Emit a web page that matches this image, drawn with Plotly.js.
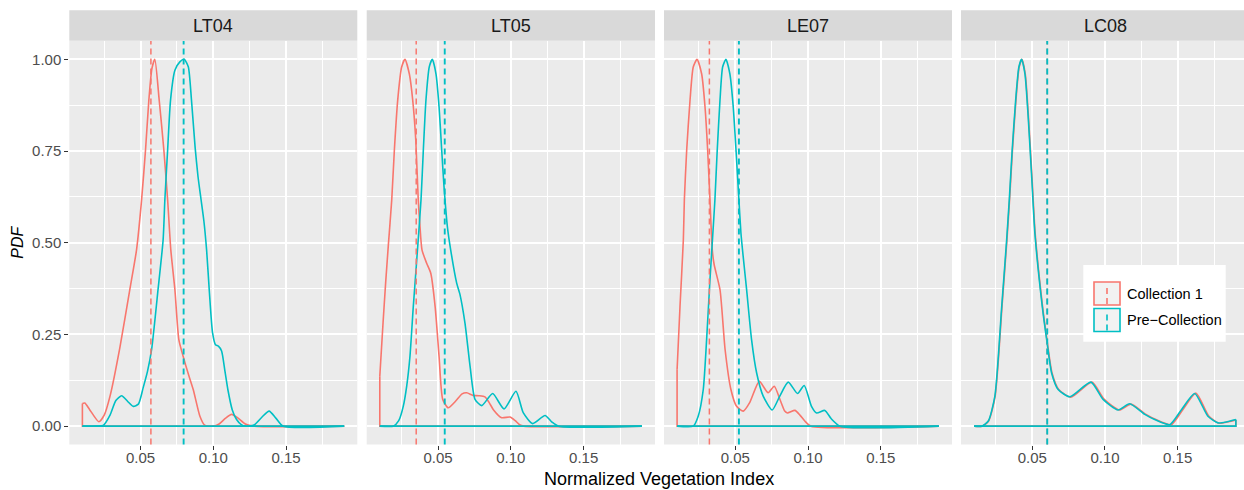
<!DOCTYPE html>
<html>
<head>
<meta charset="utf-8">
<script src="https://cdn.plot.ly/plotly-3.0.1.min.js"></script>
<style>
  html, body { margin: 0; padding: 0; background: #ffffff; }
  #chart { width: 1244px; height: 490px; }
</style>
</head>
<body>
<div id="chart"></div>
<script>
// ---------------- DATA ----------------
const panels = ["LT04", "LT05", "LE07", "LC08"];
const seriesNames = ["Collection 1", "Pre\u2212Collection"];
const xTickLabels = ["0.05", "0.10", "0.15"];
const yTickLabels = ["0.00", "0.25", "0.50", "0.75", "1.00"];

// Mean (dashed) lines per panel
const meanCollection1 = [0.0571, 0.0350, 0.0322, 0.0603];
const meanPreCollection = [0.0796, 0.0546, 0.0525, 0.0603];

// LT04
const lt04_c1_x = [0.010, 0.0117, 0.015, 0.0213, 0.025, 0.029, 0.0358, 0.0426, 0.0472, 0.0507, 0.0534, 0.0557, 0.0578, 0.0598, 0.0628, 0.066, 0.0686, 0.0708, 0.0736, 0.0763, 0.0793, 0.083, 0.0862, 0.0908, 0.094, 0.100, 0.104, 0.1085, 0.1126, 0.117, 0.122, 0.128, 0.190];
const lt04_c1_y = [0.062, 0.063, 0.045, 0.012, 0.030, 0.082, 0.215, 0.372, 0.480, 0.617, 0.753, 0.889, 0.975, 1.000, 0.889, 0.753, 0.617, 0.480, 0.372, 0.236, 0.190, 0.140, 0.100, 0.027, 0.003, 0.000, 0.006, 0.022, 0.032, 0.022, 0.006, 0.000, 0.000];
const lt04_pre_x = [0.010, 0.020, 0.0243, 0.029, 0.033, 0.037, 0.041, 0.045, 0.0485, 0.0518, 0.0548, 0.0576, 0.062, 0.0655, 0.0667, 0.0686, 0.0706, 0.0736, 0.077, 0.080, 0.0828, 0.085, 0.0875, 0.0895, 0.0915, 0.0935, 0.0954, 0.0972, 0.0995, 0.1015, 0.1035, 0.1057, 0.108, 0.110, 0.113, 0.116, 0.119, 0.122, 0.128, 0.1335, 0.1384, 0.143, 0.148, 0.190];
const lt04_pre_y = [0.000, 0.000, 0.002, 0.030, 0.070, 0.083, 0.068, 0.054, 0.060, 0.105, 0.150, 0.209, 0.372, 0.508, 0.617, 0.753, 0.889, 0.970, 0.993, 1.000, 0.980, 0.889, 0.760, 0.680, 0.620, 0.560, 0.480, 0.372, 0.254, 0.222, 0.218, 0.205, 0.150, 0.100, 0.045, 0.018, 0.005, 0.000, 0.003, 0.025, 0.041, 0.022, 0.000, 0.000];

// LT05
const lt05_c1_x = [0.010, 0.0122, 0.014, 0.0158, 0.0182, 0.020, 0.0223, 0.025, 0.0273, 0.0303, 0.0326, 0.0347, 0.0364, 0.0375, 0.039, 0.0422, 0.045, 0.048, 0.0507, 0.0532, 0.057, 0.062, 0.0665, 0.0697, 0.074, 0.078, 0.0822, 0.085, 0.088, 0.0937, 0.0994, 0.103, 0.106, 0.109, 0.190];
const lt05_c1_y = [0.136, 0.280, 0.390, 0.490, 0.617, 0.753, 0.889, 0.979, 1.000, 0.960, 0.889, 0.780, 0.617, 0.550, 0.480, 0.444, 0.417, 0.326, 0.190, 0.073, 0.050, 0.068, 0.088, 0.091, 0.084, 0.083, 0.080, 0.065, 0.045, 0.023, 0.025, 0.015, 0.004, 0.000, 0.000];
const lt05_pre_x = [0.010, 0.0193, 0.023, 0.0261, 0.0285, 0.0307, 0.033, 0.0355, 0.0383, 0.0399, 0.0417, 0.044, 0.0461, 0.0486, 0.0507, 0.0525, 0.0541, 0.0564, 0.0587, 0.0628, 0.065, 0.0685, 0.072, 0.0754, 0.080, 0.0875, 0.0953, 0.1035, 0.1086, 0.115, 0.1235, 0.128, 0.1326, 0.190];
const lt05_pre_y = [0.000, 0.000, 0.015, 0.054, 0.110, 0.190, 0.326, 0.460, 0.617, 0.753, 0.889, 0.980, 1.000, 0.960, 0.870, 0.753, 0.653, 0.544, 0.480, 0.390, 0.360, 0.281, 0.163, 0.073, 0.056, 0.089, 0.047, 0.095, 0.036, 0.007, 0.029, 0.012, 0.000, 0.000];

// LE07
const le07_c1_x = [0.010, 0.012, 0.0143, 0.015, 0.0166, 0.0189, 0.0211, 0.0237, 0.0269, 0.0292, 0.031, 0.0326, 0.0342, 0.0355, 0.0395, 0.043, 0.047, 0.0509, 0.0555, 0.060, 0.0665, 0.0726, 0.0768, 0.081, 0.084, 0.0858, 0.091, 0.0945, 0.0978, 0.102, 0.190];
const le07_c1_y = [0.154, 0.326, 0.508, 0.617, 0.753, 0.889, 0.979, 1.000, 0.960, 0.870, 0.753, 0.617, 0.480, 0.440, 0.372, 0.209, 0.100, 0.054, 0.041, 0.065, 0.122, 0.091, 0.109, 0.070, 0.041, 0.036, 0.043, 0.030, 0.014, 0.000, 0.000];
const le07_pre_x = [0.010, 0.0211, 0.0245, 0.028, 0.0303, 0.0326, 0.0345, 0.036, 0.0376, 0.0395, 0.0413, 0.0436, 0.0463, 0.0486, 0.0505, 0.0525, 0.0539, 0.0555, 0.0578, 0.0612, 0.0647, 0.0692, 0.0754, 0.0806, 0.0864, 0.0928, 0.0974, 0.1024, 0.1059, 0.1116, 0.116, 0.122, 0.190];
const le07_pre_y = [0.000, 0.000, 0.027, 0.100, 0.236, 0.399, 0.520, 0.617, 0.753, 0.889, 0.979, 1.000, 0.960, 0.870, 0.753, 0.617, 0.526, 0.460, 0.372, 0.236, 0.145, 0.082, 0.044, 0.082, 0.120, 0.089, 0.111, 0.054, 0.036, 0.043, 0.020, 0.000, 0.000];

// LC08
const lc08_c1_x = [0.010, 0.0155, 0.020, 0.0245, 0.0292, 0.0326, 0.0344, 0.0364, 0.0388, 0.041, 0.0429, 0.0452, 0.0474, 0.0498, 0.052, 0.0571, 0.0601, 0.0636, 0.0682, 0.0765, 0.091, 0.0995, 0.110, 0.1178, 0.1282, 0.135, 0.1455, 0.1535, 0.1625, 0.1715, 0.1785, 0.185, 0.190];
const lc08_c1_y = [0.000, 0.000, 0.014, 0.082, 0.326, 0.508, 0.617, 0.753, 0.889, 0.979, 1.000, 0.960, 0.843, 0.680, 0.526, 0.326, 0.236, 0.145, 0.100, 0.079, 0.120, 0.073, 0.044, 0.060, 0.032, 0.018, 0.004, 0.045, 0.090, 0.027, 0.008, 0.012, 0.017];
const lc08_pre_x = [0.010, 0.0152, 0.0198, 0.0243, 0.029, 0.0324, 0.0342, 0.0362, 0.0386, 0.0408, 0.0427, 0.045, 0.0472, 0.0496, 0.0518, 0.0569, 0.0599, 0.0633, 0.0678, 0.0759, 0.0903, 0.0987, 0.109, 0.117, 0.1274, 0.1342, 0.1445, 0.1526, 0.1617, 0.1708, 0.1777, 0.184, 0.190];
const lc08_pre_y = [0.000, 0.000, 0.014, 0.082, 0.326, 0.508, 0.617, 0.753, 0.889, 0.979, 1.000, 0.960, 0.843, 0.680, 0.526, 0.326, 0.236, 0.145, 0.100, 0.080, 0.120, 0.073, 0.044, 0.061, 0.032, 0.018, 0.004, 0.045, 0.089, 0.027, 0.009, 0.012, 0.018];

const curvesX = [[lt04_c1_x, lt04_pre_x], [lt05_c1_x, lt05_pre_x], [le07_c1_x, le07_pre_x], [lc08_c1_x, lc08_pre_x]];
const curvesY = [[lt04_c1_y, lt04_pre_y], [lt05_c1_y, lt05_pre_y], [le07_c1_y, le07_pre_y], [lc08_c1_y, lc08_pre_y]];

// ---------------- STYLE / LAYOUT ----------------
const W = 1244, H = 490;
const colors = ["#F8766D", "#00BFC4"];
const FONT = "Liberation Sans, Arial, Helvetica, sans-serif";
const fx = v => v / W;
const fy = v => 1 - v / H;

const panelPx = [[69.3, 357.3], [366.7, 655.0], [664.0, 952.0], [961.0, 1244.0]];
const xRanges = [[0.001, 0.199], [0.001, 0.199], [0.001, 0.199], [0.001, 0.1956]];
const panelTop = 41, panelBottom = 444.5, stripTop = 10.3;
const yDomain = [fy(panelBottom), fy(panelTop)];

const traces = [];
const layout = {
  width: W, height: H,
  margin: {l: 0, r: 0, t: 0, b: 0},
  paper_bgcolor: "#FFFFFF",
  plot_bgcolor: "#EBEBEB",
  showlegend: false,
  font: {family: FONT, color: "#000000"},
  shapes: [],
  annotations: []
};

for (let p = 0; p < panels.length; p++) {
  const sfx = p === 0 ? "" : String(p + 1);
  const xa = "x" + sfx, ya = "y" + sfx;
  layout["xaxis" + sfx] = {
    domain: [fx(panelPx[p][0]), fx(panelPx[p][1])],
    range: xRanges[p],
    anchor: ya,
    tickmode: "array",
    tickvals: xTickLabels.map(Number),
    ticktext: xTickLabels,
    ticks: "outside", ticklen: 4, tickwidth: 1, tickcolor: "#333333",
    ticklabelstandoff: -5,
    tickfont: {family: FONT, size: 15, color: "#4D4D4D"},
    showgrid: true, gridcolor: "#FFFFFF", gridwidth: 2,
    minor: {tick0: 0, dtick: 0.025, showgrid: true, gridcolor: "#FFFFFF", gridwidth: 1, ticks: ""},
    zeroline: false, showline: false, fixedrange: true
  };
  layout["yaxis" + sfx] = {
    domain: yDomain,
    range: [-0.05, 1.05],
    anchor: xa,
    tickmode: "array",
    tickvals: yTickLabels.map(Number),
    ticktext: yTickLabels,
    ticks: p === 0 ? "outside" : "",
    showticklabels: p === 0,
    ticklen: 4, tickwidth: 1, tickcolor: "#333333",
    tickfont: {family: FONT, size: 15, color: "#4D4D4D"},
    showgrid: true, gridcolor: "#FFFFFF", gridwidth: 2,
    minor: {tick0: 0, dtick: 0.125, showgrid: true, gridcolor: "#FFFFFF", gridwidth: 1, ticks: ""},
    zeroline: false, showline: false, fixedrange: true
  };

  // density outlines: curve (smoothed) + baseline closure
  for (let s = 0; s < 2; s++) {
    const xs = curvesX[p][s], ys = curvesY[p][s];
    const n = xs.length;
    traces.push({
      type: "scatter", mode: "lines", xaxis: xa, yaxis: ya,
      x: xs, y: ys,
      line: {color: colors[s], width: 1.6, shape: "spline", smoothing: 0.6},
      hoverinfo: "skip", name: seriesNames[s]
    });
    traces.push({
      type: "scatter", mode: "lines", xaxis: xa, yaxis: ya,
      x: [xs[n - 1], xs[n - 1], xs[0], xs[0]],
      y: [ys[n - 1], 0, 0, ys[0]],
      line: {color: colors[s], width: 1.6},
      hoverinfo: "skip", name: seriesNames[s]
    });
  }

  // mean lines
  const means = [meanCollection1[p], meanPreCollection[p]];
  for (let s = 0; s < 2; s++) {
    layout.shapes.push({
      type: "line", xref: xa, yref: ya + " domain",
      x0: means[s], x1: means[s], y0: 0, y1: 1,
      line: {color: colors[s], width: s === 0 ? 1.5 : 1.9, dash: "6px,4px"}
    });
  }

  // strip
  layout.shapes.push({
    type: "rect", xref: "paper", yref: "paper",
    x0: fx(panelPx[p][0]), x1: fx(panelPx[p][1]),
    y0: fy(panelTop - 0.3), y1: fy(stripTop),
    fillcolor: "#D9D9D9", line: {width: 0}
  });
  layout.annotations.push({
    xref: "paper", yref: "paper",
    x: fx((panelPx[p][0] + (p === 3 ? 1249 : panelPx[p][1])) / 2),
    y: fy((stripTop + panelTop) / 2),
    text: panels[p], showarrow: false,
    xanchor: "center", yanchor: "middle",
    font: {family: FONT, size: 18, color: "#1A1A1A"}
  });
}

// axis titles
layout.annotations.push({
  xref: "paper", yref: "paper", x: fx(659.5), y: fy(479),
  text: "Normalized Vegetation Index", showarrow: false,
  xanchor: "center", yanchor: "middle",
  font: {family: FONT, size: 18, color: "#000000"}
});
layout.annotations.push({
  xref: "paper", yref: "paper", x: fx(18), y: fy((panelTop + panelBottom) / 2),
  text: "PDF", showarrow: false, textangle: -90,
  xanchor: "center", yanchor: "middle",
  font: {family: FONT, size: 16, color: "#000000", style: "italic"}
});

// legend (drawn manually, ggplot-like keys)
layout.shapes.push({
  type: "rect", xref: "paper", yref: "paper",
  x0: fx(1083.3), x1: fx(1225.7), y0: fy(341.7), y1: fy(265),
  fillcolor: "#FFFFFF", line: {width: 0}
});
const keyTops = [282, 308.5];
for (let s = 0; s < 2; s++) {
  const t = keyTops[s], b = t + 23;
  layout.shapes.push({
    type: "rect", xref: "paper", yref: "paper",
    x0: fx(1094), x1: fx(1120), y0: fy(b), y1: fy(t),
    fillcolor: "#F2F2F2", line: {color: colors[s], width: 1.6}
  });
  layout.shapes.push({
    type: "line", xref: "paper", yref: "paper",
    x0: fx(1107), x1: fx(1107), y0: fy(b - 1), y1: fy(t + 3),
    line: {color: colors[s], width: 1.6, dash: "6px,4px"}
  });
  layout.annotations.push({
    xref: "paper", yref: "paper", x: fx(1124.5), y: fy(t + 11.5),
    text: seriesNames[s], showarrow: false,
    xanchor: "left", yanchor: "middle",
    font: {family: FONT, size: 14.5, color: "#000000"}
  });
}

Plotly.newPlot("chart", traces, layout, {displayModeBar: false, staticPlot: true});
</script>
</body>
</html>
